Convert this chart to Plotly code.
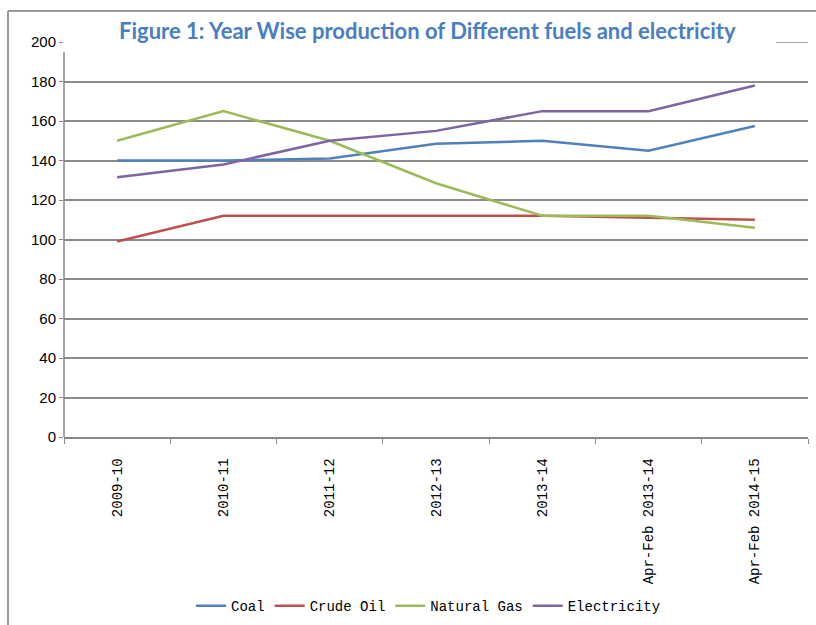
import plotly.graph_objects as go

categories = ["2009-10", "2010-11", "2011-12", "2012-13", "2013-14",
              "Apr-Feb 2013-14", "Apr-Feb 2014-15"]
coal = [140, 140, 141, 148.5, 150, 145, 157.5]
crude_oil = [99, 112, 112, 112, 112, 111, 110]
natural_gas = [150, 165, 150, 128.5, 112, 112, 106]
electricity = [131.5, 138, 150, 155, 165, 165, 178]

series = [
    ("Coal", coal, "#4F81BD"),
    ("Crude Oil", crude_oil, "#C0504D"),
    ("Natural Gas", natural_gas, "#9BBB59"),
    ("Electricity", electricity, "#8064A2"),
]

fig = go.Figure()
for name, vals, color in series:
    fig.add_trace(go.Scatter(x=categories, y=vals, name=name, mode="lines",
                             line=dict(color=color, width=2.5)))

mono = "Liberation Mono, DejaVu Sans Mono, monospace"

fig.update_layout(
    width=816, height=625,
    margin=dict(l=64, r=8, t=42, b=188, autoexpand=False),
    paper_bgcolor="white", plot_bgcolor="white",
    showlegend=True,
    legend=dict(orientation="h", x=0.49, xanchor="center", y=-0.388, yanchor="top",
                font=dict(family=mono, size=14, color="black"),
                itemwidth=30, tracegroupgap=0),
    xaxis=dict(type="category", tickson="boundaries", ticks="outside", ticklen=5,
               tickcolor="#888", showline=True, linecolor="#888", linewidth=1.5,
               showgrid=False, tickangle=-90, ticklabelstandoff=14, automargin=False,
               tickfont=dict(family=mono, size=14, color="black"),
               range=[-0.5, 6.5]),
    yaxis=dict(range=[0, 200], dtick=20, ticks="outside", ticklen=4,
               tickcolor="#888", showline=False, automargin=False,
               showgrid=True, gridcolor="#8c8c8c", gridwidth=1.5, zeroline=False,
               tickfont=dict(family="Liberation Sans Narrow, Liberation Sans, Arial", size=15,
                             color="black")),
    shapes=[
        # y axis line (hidden under the title box at the top)
        dict(type="line", xref="paper", yref="paper", x0=0, x1=0,
             y0=0, y1=0.975, line=dict(color="#888", width=1.5)),
        # visible bit of the 200 gridline right of the title box
        dict(type="line", xref="paper", yref="y", x0=0.957, x1=1,
             y0=200, y1=200, line=dict(color="#8c8c8c", width=1.5)),
        # outer frame
        dict(type="line", xref="paper", yref="paper", x0=-0.0753, x1=1.2,
             y0=1.0785, y1=1.0785, line=dict(color="#999", width=2)),
        dict(type="line", xref="paper", yref="paper", x0=-0.0753, x1=-0.0753,
             y0=1.0785, y1=-0.6, line=dict(color="#999", width=2)),
    ],
    annotations=[
        dict(text="<b>Figure 1: Year Wise production of Different fuels and electricity</b>",
             xref="paper", yref="paper", x=0.489, y=1.028, xanchor="center", yanchor="middle",
             showarrow=False, font=dict(family="Lato, Open Sans, sans-serif", size=22,
                                        color="#4A7EC3")),
    ],
)

fig.write_html("out.html")
